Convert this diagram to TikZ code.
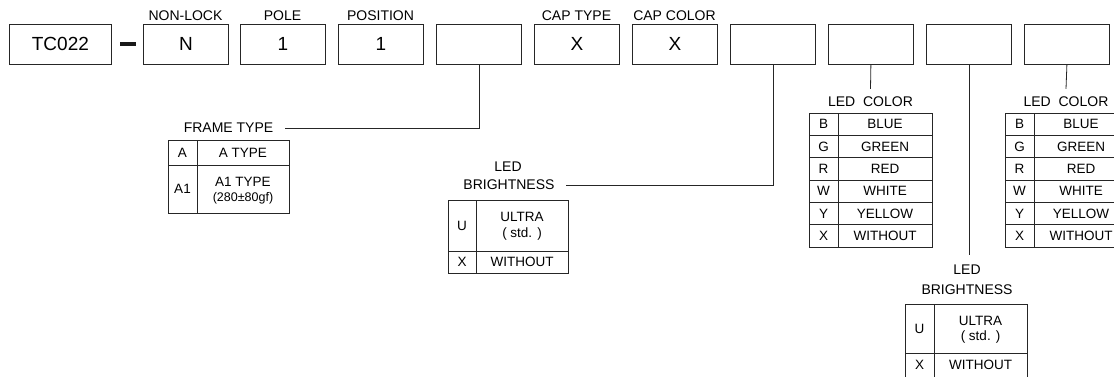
\documentclass[tikz,border=0pt]{standalone}
\usepackage{fontspec}
\setmainfont{Liberation Sans}
\begin{document}
\begin{tikzpicture}[x=1pt,y=-1pt,
  box/.style={draw=black!85, line width=0.8pt, minimum width=85pt, minimum height=40pt, anchor=north west, inner sep=0pt, font=\fontsize{19}{19}\selectfont},
  lbl/.style={font=\fontsize{14}{15}\selectfont, inner sep=0pt},
  tt/.style={font=\fontsize{13.5}{14}\selectfont, inner sep=0pt},
  sm/.style={font=\fontsize{12.5}{13}\selectfont, inner sep=0pt},
  ln/.style={draw=black!85, line width=0.8pt},
]
\useasboundingbox (0,0) rectangle (1114,376);
% top row
\node[box, minimum width=102pt] (tc) at (9,24) {TC022};
\node[fill=black!90, minimum width=16pt, minimum height=4pt, inner sep=0pt] (dash) at (128,44) {};
\node[box] (nl) at (143,24) {N};
\node[box] (pole) at (240,24) {1};
\node[box] (pos) at (338,24) {1};
\node[box] (frame) at (436,24) {};
\node[box] (ctype) at (534,24) {X};
\node[box] (ccol) at (632,24) {X};
\node[box] (bri1) at (730,24) {};
\node[box] (col1) at (828,24) {};
\node[box] (bri2) at (926,24) {};
\node[box] (col2) at (1024,24) {};
% labels above
\node[lbl] (lnl) at (185.5,16) {NON-LOCK};
\node[lbl] (lpole) at (282.5,16) {POLE};
\node[lbl] (lpos) at (380.5,16) {POSITION};
\node[lbl] (lct) at (576.5,16) {CAP TYPE};
\node[lbl] (lcc) at (674.5,16) {CAP COLOR};
% frame type
\node[lbl] (ftl) at (228.5,128) {FRAME TYPE};
\draw[ln] (frame.south) |- ([xshift=12pt]ftl.east);
\draw[ln] (168,140) rectangle (289,213);
\draw[ln] (197,140) -- (197,213);
\draw[ln] (168,165) -- (289,165);
\node[tt] (fa) at (182.5,152.5) {A};
\node[tt] (fat) at (243,152.5) {A TYPE};
\node[tt] (fa1) at (182.5,189) {A1};
\node[tt] (fa1t) at (243,182) {A1 TYPE};
\node[sm] (fa1g) at (243,198.5) {(280±80gf)};
% LED brightness 1
\node[lbl] (b1led) at (508,167) {LED};
\node[lbl] (b1lbl) at (509,185) {BRIGHTNESS};
\draw[ln] (bri1.south) |- ([xshift=11pt]b1lbl.east);
\draw[ln] (448,200) rectangle (568,273);
\draw[ln] (476,200) -- (476,273);
\draw[ln] (448,251) -- (568,251);
\node[tt] (b1u) at (462,225.5) {U};
\node[tt] (b1ul) at (522,217) {ULTRA};
\node[tt] (b1std) at (522,234) {( std. )};
\node[tt] (b1x) at (462,262) {X};
\node[tt] (b1w) at (522,262) {WITHOUT};
% LED color 1
\node[lbl] (lc1) at (870.5,102) {LED\ \ COLOR};
\draw[ln] (col1.south) -- ([yshift=8pt]lc1.north);
\draw[ln] (809,113) rectangle (932,247);
\draw[ln] (838,113) -- (838,247);
\foreach \i in {1,...,5} \draw[ln] (809,{113+22.33*\i}) -- (932,{113+22.33*\i});
\foreach \k/\v [count=\i] in {B/BLUE, G/GREEN, R/RED, W/WHITE, Y/YELLOW, X/WITHOUT} {
  \node[tt] (c1k\i) at (823.5,{113+22.33*(\i-0.5)}) {\k};
  \node[tt] (c1v\i) at (885,{113+22.33*(\i-0.5)}) {\v};
}
% LED color 2
\node[lbl] (lc2) at (1066,102) {LED\ \ COLOR};
\draw[ln] (col2.south) -- ([yshift=8pt]lc2.north);
\draw[ln] (1005,113) rectangle (1128,247);
\draw[ln] (1034,113) -- (1034,247);
\foreach \i in {1,...,5} \draw[ln] (1005,{113+22.33*\i}) -- (1128,{113+22.33*\i});
\foreach \k/\v [count=\i] in {B/BLUE, G/GREEN, R/RED, W/WHITE, Y/YELLOW, X/WITHOUT} {
  \node[tt] (c2k\i) at (1019.5,{113+22.33*(\i-0.5)}) {\k};
  \node[tt] (c2v\i) at (1081,{113+22.33*(\i-0.5)}) {\v};
}
% LED brightness 2
\node[lbl] (b2led) at (967,270) {LED};
\node[lbl] (b2lbl) at (967,290) {BRIGHTNESS};
\draw[ln] (bri2.south) -- ([yshift=10pt]bri2.south |- b2led.north);
\draw[ln] (905,304) rectangle (1027,378);
\draw[ln] (934,304) -- (934,378);
\draw[ln] (905,353) -- (1027,353);
\node[tt] (b2u) at (919.5,328.5) {U};
\node[tt] (b2ul) at (980.5,320.5) {ULTRA};
\node[tt] (b2std) at (980.5,337) {( std. )};
\node[tt] (b2x) at (919.5,365) {X};
\node[tt] (b2w) at (980.5,365) {WITHOUT};
\end{tikzpicture}
\end{document}
